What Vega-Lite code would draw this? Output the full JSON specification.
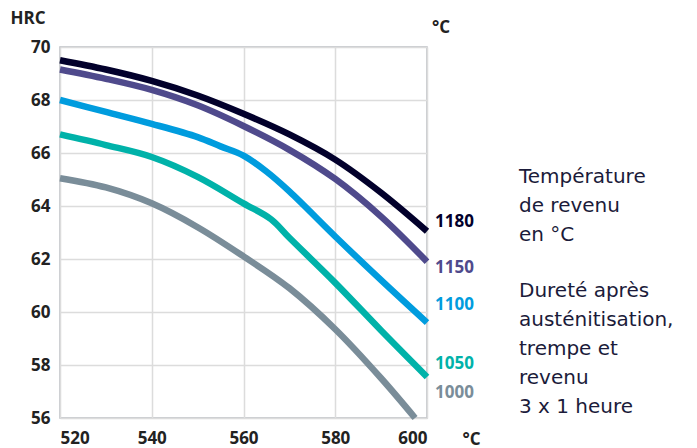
{
  "$schema": "https://vega.github.io/schema/vega-lite/v6.json",
  "width": 367,
  "height": 371,
  "autosize": {"type": "none"},
  "padding": {"left": 60, "top": 47, "right": 270, "bottom": 30},
  "background": "white",
  "config": {
    "font": "Open Sans",
    "view": {"stroke": "#b9bcc1", "strokeWidth": 1.5},
    "axis": {"grid": true, "gridColor": "#dcdcdc", "gridWidth": 1.5, "domain": false, "ticks": false, "labelFont": "Open Sans", "labelFontWeight": "bold", "labelFontSize": 17, "labelColor": "#222222", "titleFont": "Open Sans", "titleFontWeight": "bold", "titleFontSize": 17, "titleColor": "#222222"}
  },
  "datasets": {
    "curves": [
      {"T": 520, "HRC": 69.5, "s": "1180"}, {"T": 530, "HRC": 69.15, "s": "1180"}, {"T": 540, "HRC": 68.72, "s": "1180"}, {"T": 550, "HRC": 68.17, "s": "1180"}, {"T": 560, "HRC": 67.48, "s": "1180"}, {"T": 570, "HRC": 66.7, "s": "1180"}, {"T": 580, "HRC": 65.75, "s": "1180"}, {"T": 590, "HRC": 64.5, "s": "1180"}, {"T": 600, "HRC": 63.05, "s": "1180"},
      {"T": 520, "HRC": 69.15, "s": "1150"}, {"T": 530, "HRC": 68.8, "s": "1150"}, {"T": 540, "HRC": 68.38, "s": "1150"}, {"T": 550, "HRC": 67.8, "s": "1150"}, {"T": 560, "HRC": 67.02, "s": "1150"}, {"T": 570, "HRC": 66.12, "s": "1150"}, {"T": 580, "HRC": 65.02, "s": "1150"}, {"T": 590, "HRC": 63.6, "s": "1150"}, {"T": 600, "HRC": 61.9, "s": "1150"},
      {"T": 520, "HRC": 68.0, "s": "1100"}, {"T": 530, "HRC": 67.55, "s": "1100"}, {"T": 540, "HRC": 67.1, "s": "1100"}, {"T": 550, "HRC": 66.6, "s": "1100"}, {"T": 555, "HRC": 66.25, "s": "1100"}, {"T": 560, "HRC": 65.9, "s": "1100"}, {"T": 565, "HRC": 65.3, "s": "1100"}, {"T": 570, "HRC": 64.55, "s": "1100"}, {"T": 580, "HRC": 62.85, "s": "1100"}, {"T": 590, "HRC": 61.2, "s": "1100"}, {"T": 600, "HRC": 59.6, "s": "1100"},
      {"T": 520, "HRC": 66.7, "s": "1050"}, {"T": 530, "HRC": 66.3, "s": "1050"}, {"T": 540, "HRC": 65.85, "s": "1050"}, {"T": 550, "HRC": 65.1, "s": "1050"}, {"T": 560, "HRC": 64.1, "s": "1050"}, {"T": 566, "HRC": 63.5, "s": "1050"}, {"T": 570, "HRC": 62.8, "s": "1050"}, {"T": 580, "HRC": 61.1, "s": "1050"}, {"T": 590, "HRC": 59.3, "s": "1050"}, {"T": 600, "HRC": 57.55, "s": "1050"},
      {"T": 520, "HRC": 65.05, "s": "1000"}, {"T": 530, "HRC": 64.7, "s": "1000"}, {"T": 540, "HRC": 64.1, "s": "1000"}, {"T": 550, "HRC": 63.2, "s": "1000"}, {"T": 560, "HRC": 62.1, "s": "1000"}, {"T": 570, "HRC": 60.9, "s": "1000"}, {"T": 580, "HRC": 59.35, "s": "1000"}, {"T": 590, "HRC": 57.5, "s": "1000"}, {"T": 597.4, "HRC": 56.0, "s": "1000"}
    ],
    "labels": [
      {"s": "1180", "T": 600, "HRC": 63.4},
      {"s": "1150", "T": 600, "HRC": 61.66},
      {"s": "1100", "T": 600, "HRC": 60.26},
      {"s": "1050", "T": 600, "HRC": 58.04},
      {"s": "1000", "T": 600, "HRC": 56.94}
    ],
    "notes": [
      {"note": "Température\nde revenu\nen °C", "T": 600, "HRC": 65.08},
      {"note": "Dureté après\nausténitisation,\ntrempe et\nrevenu\n3 x 1 heure", "T": 600, "HRC": 60.78}
    ],
    "unit": [
      {"note": "°C", "T": 600, "HRC": 70}
    ]
  },
  "layer": [
    {
      "mark": {"type": "rule", "color": "#7a8d99", "strokeWidth": 2},
      "encoding": {"x": {"datum": 560, "type": "quantitative", "scale": {"domain": [520, 600], "nice": false}}}
    },
    {
      "data": {"name": "curves"},
      "mark": {"type": "line", "strokeWidth": 6.5, "interpolate": "catmull-rom", "strokeCap": "butt"},
      "encoding": {
        "x": {"field": "T", "type": "quantitative", "scale": {"domain": [520, 600], "nice": false}, "axis": {"values": [520, 540, 560, 580, 600], "labelPadding": 12, "title": "°C", "titleX": 411, "titleY": 21, "titleAlign": "center", "titleBaseline": "middle"}},
        "y": {"field": "HRC", "type": "quantitative", "scale": {"domain": [56, 70], "nice": false, "zero": false}, "axis": {"values": [56, 58, 60, 62, 64, 66, 68, 70], "labelPadding": 10, "title": "HRC", "titleAngle": 0, "titleX": -50, "titleY": -29, "titleAlign": "left", "titleBaseline": "middle"}},
        "color": {"field": "s", "type": "nominal", "scale": {"domain": ["1180", "1150", "1100", "1050", "1000"], "range": ["#02002b", "#4f4a8c", "#009cde", "#00b2a9", "#7a8d99"]}, "legend": null},
        "detail": {"field": "s"}
      }
    },
    {
      "data": {"name": "labels"},
      "mark": {"type": "text", "align": "left", "baseline": "middle", "dx": 8, "fontSize": 17, "fontWeight": "bold", "font": "Open Sans"},
      "encoding": {
        "x": {"field": "T", "type": "quantitative"},
        "y": {"field": "HRC", "type": "quantitative"},
        "text": {"field": "s"},
        "color": {"field": "s", "type": "nominal", "legend": null}
      }
    },
    {
      "data": {"name": "unit"},
      "mark": {"type": "text", "align": "left", "baseline": "middle", "dx": 5, "dy": -19, "fontSize": 17, "fontWeight": "bold", "font": "Open Sans", "color": "#222222"},
      "encoding": {
        "x": {"field": "T", "type": "quantitative"},
        "y": {"field": "HRC", "type": "quantitative"},
        "text": {"field": "note"}
      }
    },
    {
      "data": {"name": "notes"},
      "mark": {"type": "text", "align": "left", "baseline": "middle", "dx": 92, "fontSize": 20, "lineHeight": 28.8, "lineBreak": "\n", "font": "DejaVu Sans", "color": "#1b1b3a"},
      "encoding": {
        "x": {"field": "T", "type": "quantitative"},
        "y": {"field": "HRC", "type": "quantitative"},
        "text": {"field": "note"}
      }
    }
  ]
}
